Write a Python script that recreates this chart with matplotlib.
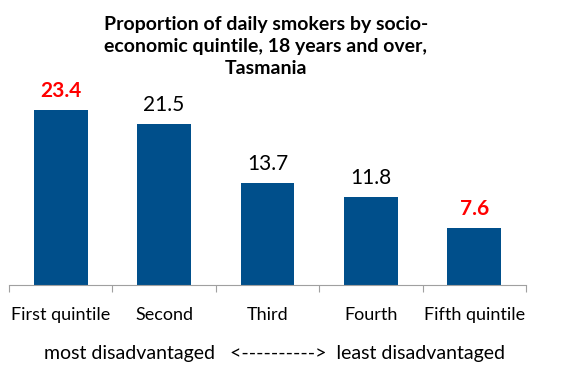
import matplotlib
matplotlib.use("Agg")
import matplotlib.pyplot as plt
import numpy as np

plt.rcParams["font.family"] = ["Lato", "DejaVu Sans"]

categories = ["First quintile", "Second", "Third", "Fourth", "Fifth quintile"]
values = [23.4, 21.5, 13.7, 11.8, 7.6]
highlight = [True, False, False, False, True]

title = "Proportion of daily smokers by socio-\neconomic quintile, 18 years and over,\nTasmania"
footnote = "most disadvantaged   <---------->  least disadvantaged"

BAR = "#004F8B"
W, H = 566, 365

fig = plt.figure(figsize=(W / 100, H / 100), dpi=100)
ax = fig.add_axes([9 / W, 80 / H, 517 / W, 187 / H])

x = np.arange(len(categories))
ax.bar(x, values, width=0.52, color=BAR, zorder=2)
ax.set_xlim(-0.5, len(categories) - 0.5)
ax.set_ylim(0, 25)

for xi, v, hl in zip(x, values, highlight):
    ax.text(xi, v + 1.2, f"{v:.1f}", ha="center", va="bottom",
            fontsize=15, color="#FF0000" if hl else "black",
            fontweight="bold" if hl else "normal")

for s in ["top", "right", "left"]:
    ax.spines[s].set_visible(False)
ax.spines["bottom"].set_color("#A0A0A0")
ax.set_yticks([])
ax.set_xticks(np.arange(len(categories) + 1) - 0.5, minor=False)
ax.set_xticklabels([])
ax.tick_params(axis="x", length=5, color="#A0A0A0", direction="out")
ax.set_xticks(x, minor=True)
ax.set_xticklabels(categories, minor=True, fontsize=13)
ax.tick_params(axis="x", which="minor", length=0, pad=16)

fig.text(266 / W, 1 - 16 / H, title, ha="center", va="top",
         fontsize=14, fontweight="bold", linespacing=1.35)
fig.text(275 / W, 1 - 353 / H, footnote, ha="center", va="center", fontsize=14)

fig.savefig("out.png", dpi=100)
